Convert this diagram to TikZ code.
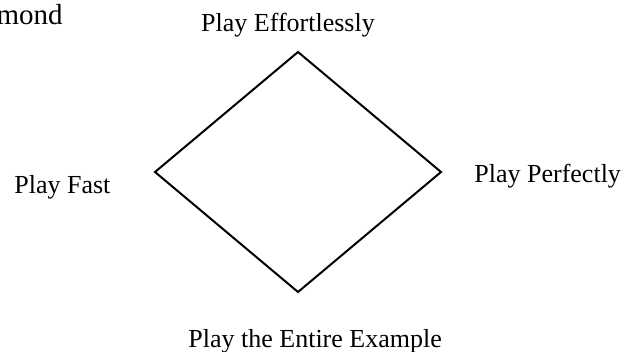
\documentclass[tikz,border=0pt]{standalone}
\usepackage{fontspec}
\setmainfont{Liberation Serif}

\begin{document}
\begin{tikzpicture}[x=0.5pt,y=-0.5pt]
    \tikzstyle{every node}=[inner sep=0pt,font=\fontsize{13}{15}\selectfont]
    \useasboundingbox (0,0) rectangle (625,352);
    \node[anchor=base east,font=\fontsize{14.5}{17}\selectfont] (title) at (63,25) {Diamond};
    \coordinate (top) at (298,52);
    \coordinate (right) at (441,172);
    \coordinate (bottom) at (298,292);
    \coordinate (left) at (155,172);
    \draw[line width=1pt,line join=miter] (top) -- (right) -- (bottom) -- (left) -- cycle;
    \node[anchor=base] (effortless) at (288,32) {Play Effortlessly};
    \node[anchor=base west] (fast) at (14,193) {Play Fast};
    \node[anchor=base west] (perfect) at (474,183) {Play Perfectly};
    \node[anchor=base west] (entire) at (188,347) {Play the Entire Example};
  \end{tikzpicture}
\end{document}
